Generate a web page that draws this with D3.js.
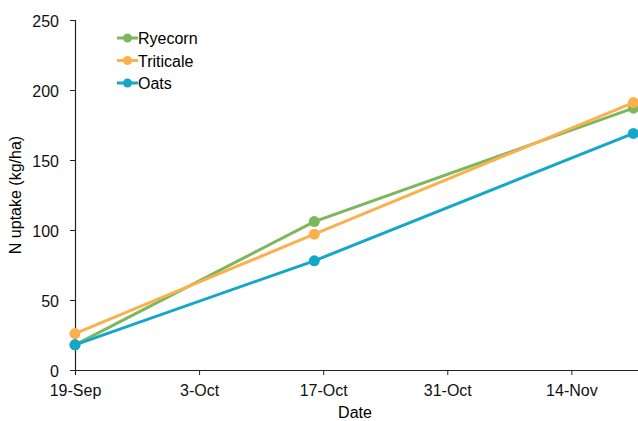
<!DOCTYPE html>
<html>
<head>
<meta charset="utf-8">
<script src="https://cdn.jsdelivr.net/npm/d3@7"></script>
<style>
  body { margin: 0; background: #fff; }
  text { font-family: "Liberation Sans", Arial, sans-serif; }
</style>
</head>
<body>
<svg id="chart" width="638" height="421"></svg>
<script>
const dates = ['2013-09-19', '2013-10-16', '2013-11-21']
const ryecorn = [18, 106, 187]
const triticale = [26, 97, 191]
const oats = [18, 78, 169]
const tickDates = ['2013-09-19', '2013-10-03', '2013-10-17', '2013-10-31', '2013-11-14']
const yTicks = [0, 50, 100, 150, 200, 250]

const parse = d3.timeParse('%Y-%m-%d')
const fmt = d3.timeFormat('%-d-%b')

const series = [
  { name: 'Ryecorn', values: ryecorn, color: '#7cb75e' },
  { name: 'Triticale', values: triticale, color: '#fbb04e' },
  { name: 'Oats', values: oats, color: '#14a7c8' }
]

const svg = d3.select('#chart')

const xScale = d3.scaleTime()
  .domain([parse('2013-09-19'), parse('2013-11-24')])
  .range([75, 660])

const yScale = d3.scaleLinear()
  .domain([0, 250])
  .range([370, 20])

const xAxis = d3.axisBottom(xScale)
  .tickValues(tickDates.map(parse))
  .tickFormat(fmt)
  .tickSizeOuter(0)
  .tickSize(5)

const yAxis = d3.axisLeft(yScale)
  .tickValues(yTicks)
  .tickSizeOuter(0)
  .tickSize(5)

svg.append('g')
  .attr('transform', 'translate(0,370)')
  .call(xAxis)
  .call(g => {
    g.select('.domain').style('stroke', '#222').style('stroke-width', 1.2)
    g.selectAll('.tick line').style('stroke', '#222')
    g.selectAll('.tick text')
      .attr('dy', 18)
      .style('font-size', '16px')
      .style('fill', '#111')
  })

svg.append('g')
  .attr('transform', 'translate(75,0)')
  .call(yAxis)
  .call(g => {
    g.select('.domain').style('stroke', '#222').style('stroke-width', 1.2)
    g.selectAll('.tick line').style('stroke', '#222')
    g.selectAll('.tick text')
      .attr('x', -16)
      .attr('dy', 6)
      .style('font-size', '16px')
      .style('fill', '#111')
  })

svg.append('text')
  .attr('x', 355)
  .attr('y', 418)
  .attr('text-anchor', 'middle')
  .style('font-size', '16px')
  .text('Date')

svg.append('text')
  .attr('transform', 'translate(21,195) rotate(-90)')
  .attr('text-anchor', 'middle')
  .style('font-size', '16px')
  .text('N uptake (kg/ha)')

const line = d3.line()
  .x(d => xScale(d.date))
  .y(d => yScale(d.value))

series.forEach(s => {
  const pts = dates.map((d, i) => ({ date: parse(d), value: s.values[i] }))
  svg.append('path')
    .datum(pts)
    .attr('d', line)
    .attr('fill', 'none')
    .attr('stroke', s.color)
    .attr('stroke-width', 3)
  svg.selectAll(null)
    .data(pts)
    .enter().append('circle')
    .attr('cx', d => xScale(d.date))
    .attr('cy', d => yScale(d.value))
    .attr('r', 5.5)
    .attr('fill', s.color)
})

// legend
const legend = svg.append('g')
series.forEach((s, i) => {
  const y = 38 + i * 22.5
  legend.append('line')
    .attr('x1', 117).attr('x2', 138)
    .attr('y1', y).attr('y2', y)
    .attr('stroke', s.color)
    .attr('stroke-width', 3)
  legend.append('circle')
    .attr('cx', 127.5).attr('cy', y)
    .attr('r', 4.5)
    .attr('fill', s.color)
  legend.append('text')
    .attr('x', 138)
    .attr('y', y + 6)
    .style('font-size', '16px')
    .text(s.name)
})
</script>
</body>
</html>
